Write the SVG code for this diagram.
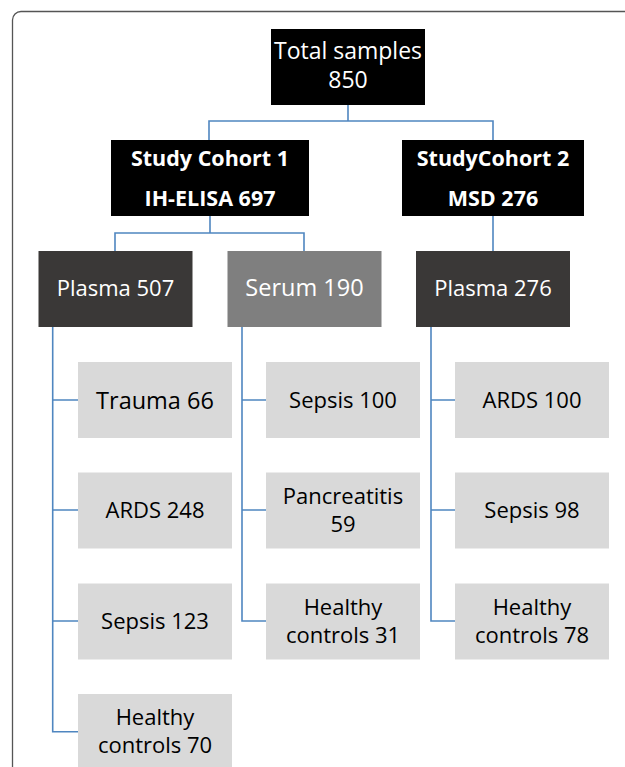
<svg xmlns="http://www.w3.org/2000/svg" width="625" height="767" viewBox="0 0 625 767">
<style>
.t{font-family:"Open Sans","Noto Sans","Liberation Sans",sans-serif;text-anchor:middle}
.w{fill:#ffffff}
.k{fill:#000000}
.b{font-weight:bold}
.blk{fill:#000000}
.dk{fill:#3a3837}
.md{fill:#7f7f7f}
.lt{fill:#d9d9d9}
.c{fill:none;stroke:#4f86c0;stroke-width:1.6}
</style>
<rect width="625" height="767" fill="#ffffff"/>
<path d="M12.5,780 V20 A8.5,8.5 0 0 1 21,11.5 H640" fill="none" stroke="#555555" stroke-width="1.3"/>
<g id="connectors">
<path class="c" d="M348,105 V121 M209,140 V121 H493 V140"/>
<path class="c" d="M210,216 V233 M115,251 V233 H304 V251"/>
<path class="c" d="M493,216 V251"/>
<path class="c" d="M52.7,327 V731.7 H78 M52.7,400 H78 M52.7,510 H78 M52.7,621 H78"/>
<path class="c" d="M242,327 V621 H266 M242,400 H266 M242,510 H266"/>
<path class="c" d="M431,327 V621 H455 M431,400 H455 M431,510 H455"/>
</g>
<g id="total">
<rect class="blk" x="271" y="29" width="154" height="76"/>
<text class="t w" x="348" y="59" font-size="23">Total samples</text>
<text class="t w" x="348" y="88" font-size="23">850</text>
</g>
<g id="cohort1">
<rect class="blk" x="111" y="140" width="198" height="76"/>
<text class="t w b" x="210" y="165.5" font-size="21.5">Study Cohort 1</text>
<text class="t w b" x="210" y="205.5" font-size="21.5">IH-ELISA 697</text>
</g>
<g id="cohort2">
<rect class="blk" x="402" y="140" width="182" height="76"/>
<text class="t w b" x="493" y="165.5" font-size="21.5">StudyCohort 2</text>
<text class="t w b" x="493" y="205.5" font-size="21.5">MSD 276</text>
</g>
<g id="plasma507">
<rect class="dk" x="38.5" y="251" width="154" height="76"/>
<text class="t w" x="115.5" y="296" font-size="22">Plasma 507</text>
</g>
<g id="serum190">
<rect class="md" x="227.5" y="251" width="154" height="76"/>
<text class="t w" x="304.5" y="296" font-size="23.5">Serum 190</text>
</g>
<g id="plasma276">
<rect class="dk" x="416" y="251" width="154" height="76"/>
<text class="t w" x="493" y="296" font-size="22">Plasma 276</text>
</g>
<g id="trauma66">
<rect class="lt" x="78" y="362" width="154" height="76"/>
<text class="t k" x="155" y="408.5" font-size="23.5">Trauma 66</text>
</g>
<g id="ards248">
<rect class="lt" x="78" y="472.5" width="154" height="76"/>
<text class="t k" x="155" y="518" font-size="22">ARDS 248</text>
</g>
<g id="sepsis123">
<rect class="lt" x="78" y="583.5" width="154" height="76"/>
<text class="t k" x="155" y="629" font-size="22">Sepsis 123</text>
</g>
<g id="healthy70">
<rect class="lt" x="78" y="694" width="154" height="76"/>
<text class="t k" x="155" y="725" font-size="22">Healthy</text>
<text class="t k" x="155" y="753" font-size="22">controls 70</text>
</g>
<g id="sepsis100">
<rect class="lt" x="266" y="362" width="154" height="76"/>
<text class="t k" x="343" y="407.5" font-size="22">Sepsis 100</text>
</g>
<g id="pancreatitis59">
<rect class="lt" x="266" y="472.5" width="154" height="76"/>
<text class="t k" x="343" y="503.5" font-size="22">Pancreatitis</text>
<text class="t k" x="343" y="531.5" font-size="22">59</text>
</g>
<g id="healthy31">
<rect class="lt" x="266" y="583.5" width="154" height="76"/>
<text class="t k" x="343" y="614.5" font-size="22">Healthy</text>
<text class="t k" x="343" y="642.5" font-size="22">controls 31</text>
</g>
<g id="ards100">
<rect class="lt" x="455" y="362" width="154" height="76"/>
<text class="t k" x="532" y="407.5" font-size="22">ARDS 100</text>
</g>
<g id="sepsis98">
<rect class="lt" x="455" y="472.5" width="154" height="76"/>
<text class="t k" x="532" y="518" font-size="22">Sepsis 98</text>
</g>
<g id="healthy78">
<rect class="lt" x="455" y="583.5" width="154" height="76"/>
<text class="t k" x="532" y="614.5" font-size="22">Healthy</text>
<text class="t k" x="532" y="642.5" font-size="22">controls 78</text>
</g>
</svg>
